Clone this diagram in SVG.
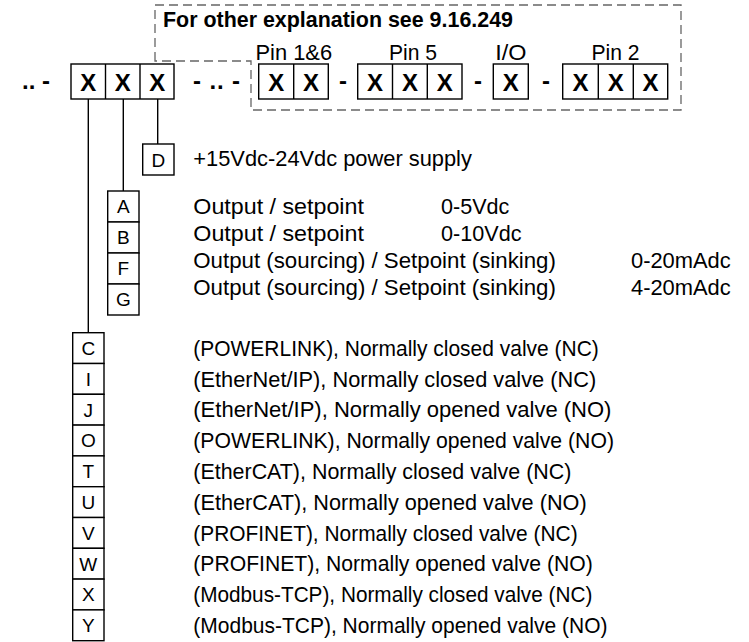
<svg xmlns="http://www.w3.org/2000/svg" width="749" height="642" viewBox="0 0 749 642">
<style>
.bx{fill:#fff;stroke:#000;stroke-width:1.4}
.cn{stroke:#000;stroke-width:1.4;fill:none}
.dash{fill:none;stroke:#666;stroke-width:1.3;stroke-dasharray:9 5}
.xb{font-family:"Liberation Sans",Arial,sans-serif;font-weight:bold;font-size:24px;text-anchor:middle;fill:#000}
.sep{font-family:"Liberation Sans",Arial,sans-serif;font-weight:bold;font-size:24px;fill:#000}
.lt{font-family:"Liberation Sans",Arial,sans-serif;font-size:19px;text-anchor:middle;fill:#000}
.tx{font-family:"Liberation Sans",Arial,sans-serif;font-size:21.7px;fill:#000}
.pin{font-family:"Liberation Sans",Arial,sans-serif;font-size:21.7px;fill:#000}
.ttl{font-family:"Liberation Sans",Arial,sans-serif;font-weight:bold;font-size:21.5px;fill:#000}
</style>
<rect width="749" height="642" fill="#fff"/>

<g id="note">
<path class="dash" d="M155,61 L155,5 L681,5 L681,110 L251,110 L251,61 Z"/>
<text class="ttl" x="163" y="26.5" textLength="350" lengthAdjust="spacingAndGlyphs">For other explanation see 9.16.249</text>
<text class="pin" x="255.5" y="60" textLength="76.6" lengthAdjust="spacingAndGlyphs">Pin 1&amp;6</text>
<text class="pin" x="389" y="60" textLength="48.1" lengthAdjust="spacingAndGlyphs">Pin 5</text>
<text class="pin" x="495.2" y="60" textLength="31.2" lengthAdjust="spacingAndGlyphs">I/O</text>
<text class="pin" x="591.5" y="60" textLength="48.1" lengthAdjust="spacingAndGlyphs">Pin 2</text>
</g>

<g id="separators">
<text class="sep" x="22" y="89">.. -</text>
<text class="sep" x="193" y="89" textLength="47" lengthAdjust="spacing">- .. -</text>
<text class="sep" x="343" y="89" text-anchor="middle">-</text>
<text class="sep" x="478" y="89" text-anchor="middle">-</text>
<text class="sep" x="546" y="89" text-anchor="middle">-</text>
</g>

<g id="group1">
<rect class="bx" x="71" y="64" width="103" height="35"/>
<line class="cn" x1="105.5" y1="64" x2="105.5" y2="99"/>
<line class="cn" x1="140" y1="64" x2="140" y2="99"/>
<text class="xb" x="88.2" y="91">X</text>
<text class="xb" x="122.8" y="91">X</text>
<text class="xb" x="157.2" y="91">X</text>
</g>

<g id="group2">
<rect class="bx" x="258.7" y="64" width="69.6" height="35"/>
<line class="cn" x1="293.7" y1="64" x2="293.7" y2="99"/>
<text class="xb" x="276.2" y="91">X</text>
<text class="xb" x="311" y="91">X</text>
</g>

<g id="group3">
<rect class="bx" x="357.7" y="64" width="104.3" height="35"/>
<line class="cn" x1="392.5" y1="64" x2="392.5" y2="99"/>
<line class="cn" x1="427.3" y1="64" x2="427.3" y2="99"/>
<text class="xb" x="375.1" y="91">X</text>
<text class="xb" x="409.9" y="91">X</text>
<text class="xb" x="444.7" y="91">X</text>
</g>

<g id="group4">
<rect class="bx" x="493.3" y="64" width="35" height="35"/>
<text class="xb" x="510.8" y="91">X</text>
</g>

<g id="group5">
<rect class="bx" x="562.7" y="64" width="105" height="35"/>
<line class="cn" x1="598.3" y1="64" x2="598.3" y2="99"/>
<line class="cn" x1="633.3" y1="64" x2="633.3" y2="99"/>
<text class="xb" x="580.5" y="91">X</text>
<text class="xb" x="615.8" y="91">X</text>
<text class="xb" x="650.5" y="91">X</text>
</g>

<g id="connectors">
<line class="cn" x1="88.3" y1="99" x2="88.3" y2="332.7"/>
<line class="cn" x1="123.3" y1="99" x2="123.3" y2="191"/>
<line class="cn" x1="157.7" y1="99" x2="157.7" y2="144"/>
</g>

<g id="power">
<rect class="bx" x="142.7" y="144" width="31.3" height="31"/>
<text class="lt" x="158.3" y="166.5">D</text>
<text class="tx" x="193.3" y="166" textLength="278.6" lengthAdjust="spacingAndGlyphs">+15Vdc-24Vdc power supply</text>
</g>

<g id="outputs">
<rect class="bx" x="107.7" y="191" width="31.3" height="31"/>
<rect class="bx" x="107.7" y="222" width="31.3" height="31"/>
<rect class="bx" x="107.7" y="253" width="31.3" height="31"/>
<rect class="bx" x="107.7" y="284" width="31.3" height="31"/>
<text class="lt" x="123.3" y="213.3">A</text>
<text class="lt" x="123.3" y="244.3">B</text>
<text class="lt" x="123.3" y="275.3">F</text>
<text class="lt" x="123.3" y="306.3">G</text>
<text class="tx" x="193.3" y="213.5" textLength="170.6" lengthAdjust="spacingAndGlyphs">Output / setpoint</text>
<text class="tx" x="441" y="213.5" textLength="68.3" lengthAdjust="spacingAndGlyphs">0-5Vdc</text>
<text class="tx" x="193.3" y="240.5" textLength="170.6" lengthAdjust="spacingAndGlyphs">Output / setpoint</text>
<text class="tx" x="441" y="240.5" textLength="80.5" lengthAdjust="spacingAndGlyphs">0-10Vdc</text>
<text class="tx" x="193.3" y="267.5" textLength="362.6" lengthAdjust="spacingAndGlyphs">Output (sourcing) / Setpoint (sinking)</text>
<text class="tx" x="631" y="267.5" textLength="99.7" lengthAdjust="spacingAndGlyphs">0-20mAdc</text>
<text class="tx" x="193.3" y="295" textLength="362.6" lengthAdjust="spacingAndGlyphs">Output (sourcing) / Setpoint (sinking)</text>
<text class="tx" x="631" y="295" textLength="99.7" lengthAdjust="spacingAndGlyphs">4-20mAdc</text>
</g>

<g id="fieldbus">
<rect class="bx" x="72.7" y="332.7" width="31.3" height="30.8"/>
<rect class="bx" x="72.7" y="363.5" width="31.3" height="30.8"/>
<rect class="bx" x="72.7" y="394.3" width="31.3" height="30.8"/>
<rect class="bx" x="72.7" y="425.1" width="31.3" height="30.8"/>
<rect class="bx" x="72.7" y="455.9" width="31.3" height="30.8"/>
<rect class="bx" x="72.7" y="486.7" width="31.3" height="30.8"/>
<rect class="bx" x="72.7" y="517.5" width="31.3" height="30.8"/>
<rect class="bx" x="72.7" y="548.3" width="31.3" height="30.8"/>
<rect class="bx" x="72.7" y="579.1" width="31.3" height="30.8"/>
<rect class="bx" x="72.7" y="609.9" width="31.3" height="30.8"/>
<text class="lt" x="88.3" y="354.9">C</text>
<text class="lt" x="88.3" y="385.7">I</text>
<text class="lt" x="88.3" y="416.5">J</text>
<text class="lt" x="88.3" y="447.3">O</text>
<text class="lt" x="88.3" y="478.1">T</text>
<text class="lt" x="88.3" y="508.9">U</text>
<text class="lt" x="88.3" y="539.7">V</text>
<text class="lt" x="88.3" y="570.5">W</text>
<text class="lt" x="88.3" y="601.3">X</text>
<text class="lt" x="88.3" y="632.1">Y</text>
<text class="tx" x="193.3" y="355.8" textLength="405.5" lengthAdjust="spacingAndGlyphs">(POWERLINK), Normally closed valve (NC)</text>
<text class="tx" x="193.3" y="386.6" textLength="402.9" lengthAdjust="spacingAndGlyphs">(EtherNet/IP), Normally closed valve (NC)</text>
<text class="tx" x="193.3" y="417.4" textLength="418.1" lengthAdjust="spacingAndGlyphs">(EtherNet/IP), Normally opened valve (NO)</text>
<text class="tx" x="193.3" y="448.2" textLength="420.7" lengthAdjust="spacingAndGlyphs">(POWERLINK), Normally opened valve (NO)</text>
<text class="tx" x="193.3" y="479" textLength="378.1" lengthAdjust="spacingAndGlyphs">(EtherCAT), Normally closed valve (NC)</text>
<text class="tx" x="193.3" y="509.8" textLength="393.3" lengthAdjust="spacingAndGlyphs">(EtherCAT), Normally opened valve (NO)</text>
<text class="tx" x="193.3" y="540.6" textLength="384.3" lengthAdjust="spacingAndGlyphs">(PROFINET), Normally closed valve (NC)</text>
<text class="tx" x="193.3" y="571.4" textLength="399.5" lengthAdjust="spacingAndGlyphs">(PROFINET), Normally opened valve (NO)</text>
<text class="tx" x="193.3" y="602.2" textLength="399" lengthAdjust="spacingAndGlyphs">(Modbus-TCP), Normally closed valve (NC)</text>
<text class="tx" x="193.3" y="633" textLength="414.2" lengthAdjust="spacingAndGlyphs">(Modbus-TCP), Normally opened valve (NO)</text>
</g>
</svg>
